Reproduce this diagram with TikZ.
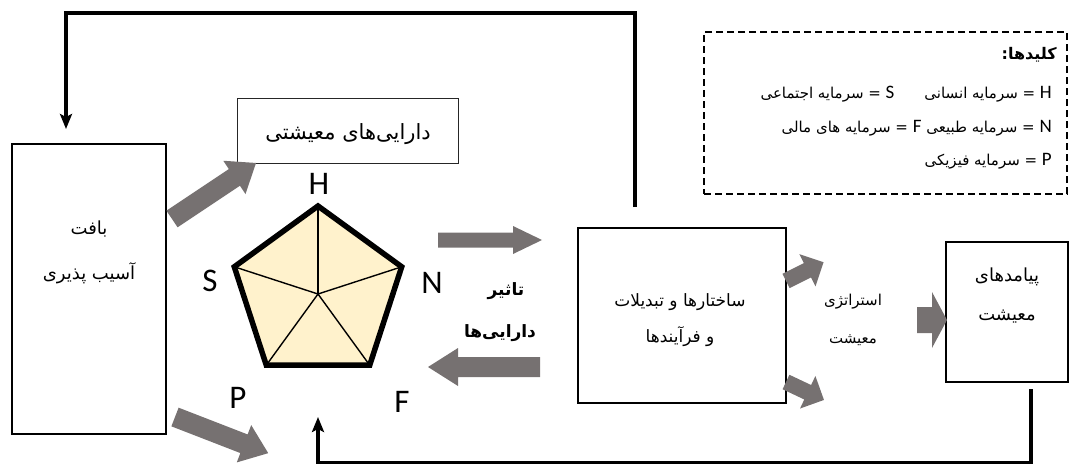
\documentclass[tikz,border=0pt]{standalone}
\usepackage{fontspec}
\setmainfont{Carlito}
\newfontfamily\fa[Script=Arabic]{DejaVu Sans}
\TeXXeTstate=1
\usetikzlibrary{arrows.meta}
\definecolor{arrowgray}{RGB}{118,113,113}
\definecolor{pentfill}{RGB}{255,242,204}

\tikzset{
  box/.style={draw, line width=2pt, inner sep=0pt},
  thinbox/.style={draw=black!85, line width=1pt, inner sep=0pt},
  fatext/.style={font=\fa\fontsize{18}{20}\selectfont, inner sep=0pt},
  fabold/.style={font=\fa\bfseries\fontsize{17}{19}\selectfont, inner sep=0pt},
  legtext/.style={font=\fa\fontsize{15}{17}\selectfont, inner sep=0pt, anchor=east},
  letter/.style={font=\fontsize{33}{35}\selectfont, inner sep=0pt},
  feedback/.style={line width=3.2pt, -{Stealth[length=15pt,width=12pt,inset=3pt]}},
  spoke/.style={line width=1.4pt},
  % block arrow: #1 length, #2 shaft width, #3 head width, #4 head length
  pics/blockarrow/.style n args={4}{code={
    \fill[arrowgray] (0,-#2/2) -- (#1-#4,-#2/2) -- (#1-#4,-#3/2) -- (#1,0)
      -- (#1-#4,#3/2) -- (#1-#4,#2/2) -- (0,#2/2) -- cycle;}}
}
\newcommand\latin[1]{{\rmfamily\fontsize{19}{21}\selectfont #1}}

\begin{document}
\begin{tikzpicture}[x=1pt,y=-1pt]
\useasboundingbox (0,0) rectangle (1070,463);

% main boxes
\node[box, minimum width=154pt, minimum height=290pt] (vul) at (89,289) {};
\node[fatext] (vulA) at (89,229) {\beginR بافت\endR};
\node[fatext] (vulB) at (89,273) {\beginR آسیب پذیری\endR};

\node[thinbox, minimum width=221pt, minimum height=65pt] (ast) at (347.5,130.5) {};
\node[fatext, font=\fa\fontsize{21}{23}\selectfont] (astT) at (348,134) {\beginR دارایی‌های معیشتی\endR};

\node[box, minimum width=208pt, minimum height=175pt] (ssp) at (682,315.5) {};
\node[fatext, font=\fa\fontsize{17}{19}\selectfont] (sspA) at (680,302) {\beginR ساختارها و تبدیلات\endR};
\node[fatext, font=\fa\fontsize{17}{19}\selectfont] (sspB) at (680,337) {\beginR و فرآیندها\endR};

\node[box, line width=2.4pt, minimum width=122pt, minimum height=140pt] (out) at (1007,312) {};
\node[fatext] (outA) at (1007,277) {\beginR پیامدهای\endR};
\node[fatext] (outB) at (1007,317) {\beginR معیشت\endR};

\node[fatext, font=\fa\fontsize{15}{17}\selectfont] (strA) at (853,302) {\beginR استراتژی\endR};
\node[fatext, font=\fa\fontsize{15}{17}\selectfont] (strB) at (853,340) {\beginR معیشت\endR};

\node[fabold] (effA) at (506,291) {\beginR تاثیر\endR};
\node[fabold] (effB) at (500,333) {\beginR دارایی‌ها\endR};

% asset pentagon
\coordinate (pc) at (318,294);
\coordinate (vH) at (318,206);
\coordinate (vN) at (401.7,266.8);
\coordinate (vF) at (369.7,365.2);
\coordinate (vP) at (266.3,365.2);
\coordinate (vS) at (234.3,266.8);
\fill[pentfill] (vH) -- (vN) -- (vF) -- (vP) -- (vS) -- cycle;
\foreach \v in {vH,vN,vF,vP,vS} \draw[spoke] (pc) -- (\v);
\draw[line width=5.5pt, line join=miter] (vH) -- (vN) -- (vF) -- (vP) -- (vS) -- cycle;

\node[letter] (lH) at (319,184) {H};
\node[letter] (lS) at (210,281) {S};
\node[letter] (lN) at (432,283) {N};
\node[letter] (lP) at (238,398) {P};
\node[letter] (lF) at (402,402) {F};

% block arrows
\pic[rotate=33.7] at (172,219) {blockarrow={101}{20}{40}{26}};
\pic[rotate=-21.2] at (175,417) {blockarrow={100}{20}{40}{26}};
\pic at (438,240) {blockarrow={104}{15}{28}{29}};
\pic[rotate=180] at (540,367) {blockarrow={112}{20}{38}{30}};
\pic[rotate=26.6] at (786,281) {blockarrow={42}{16}{36}{18}};
\pic[rotate=-25.3] at (786,382) {blockarrow={42}{16}{36}{18}};
\pic at (917,320) {blockarrow={30}{26}{56}{15}};

% feedback loops
\draw[feedback] ([xshift=58pt,yshift=20pt]ssp.north west) -- ++(0,-194)
  -| ([xshift=-23pt,yshift=14pt]vul.north);
\draw[feedback] ([xshift=24pt,yshift=-6pt]out.south) -- ++(0,73)
  -| ([yshift=-123pt]pc);

% key
\node[draw, dashed, line width=1.8pt, dash pattern=on 7pt off 4pt, inner sep=0pt,
  minimum width=363pt, minimum height=162pt] (key) at (885.5,113) {};
\node[font=\fa\bfseries\fontsize{16}{18}\selectfont, inner sep=0pt, anchor=east]
  (keyT) at (1057,55) {\beginR کلیدها:\endR};
\node[legtext] (keyA) at (1052,94) {\beginR \latin{H} = سرمایه انسانی\quad\quad \latin{S} = سرمایه اجتماعی\endR};
\node[legtext] (keyB) at (1052,128) {\beginR \latin{N} = سرمایه طبیعی \latin{F} = سرمایه های مالی\endR};
\node[legtext] (keyC) at (1052,161) {\beginR \latin{P} = سرمایه فیزیکی\endR};
\end{tikzpicture}
\end{document}
